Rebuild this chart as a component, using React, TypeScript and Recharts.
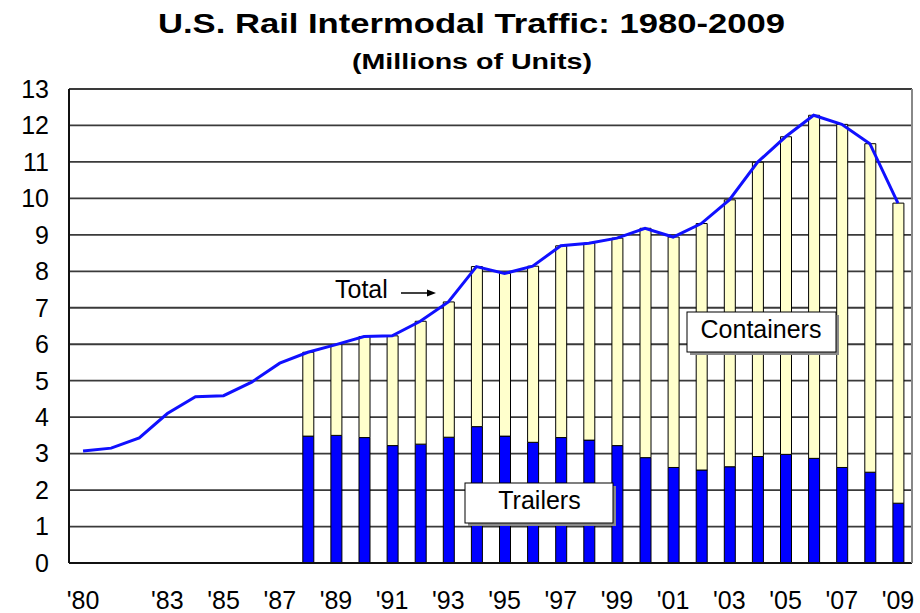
import React from "react";
import {
  ComposedChart,
  Bar,
  Line,
  XAxis,
  YAxis,
  CartesianGrid,
} from "recharts";

const years = [
  "1980", "1981", "1982", "1983", "1984", "1985", "1986", "1987", "1988", "1989",
  "1990", "1991", "1992", "1993", "1994", "1995", "1996", "1997", "1998", "1999",
  "2000", "2001", "2002", "2003", "2004", "2005", "2006", "2007", "2008", "2009",
];

const totalUnits = [
  3.07, 3.15, 3.43, 4.1, 4.56, 4.59, 4.96, 5.48, 5.78, 5.99,
  6.21, 6.23, 6.63, 7.16, 8.13, 7.94, 8.14, 8.7, 8.77, 8.91,
  9.18, 8.94, 9.31, 9.96, 10.99, 11.69, 12.28, 12.03, 11.5, 9.87,
];

const trailerUnits = [
  null, null, null, null, null, null, null, null, 3.48, 3.5,
  3.44, 3.22, 3.26, 3.45, 3.74, 3.48, 3.31, 3.44, 3.37, 3.22,
  2.89, 2.62, 2.55, 2.64, 2.92, 2.98, 2.87, 2.62, 2.49, 1.64,
];

const containerUnits = [
  null, null, null, null, null, null, null, null, 2.3, 2.49,
  2.77, 3.01, 3.37, 3.71, 4.39, 4.46, 4.83, 5.26, 5.4, 5.69,
  6.29, 6.32, 6.76, 7.32, 8.07, 8.71, 9.41, 9.41, 9.01, 8.23,
];

const xTickYears = [
  "1980", "1983", "1985", "1987", "1989", "1991", "1993", "1995", "1997",
  "1999", "2001", "2003", "2005", "2007", "2009",
];
const xTickLabels = [
  "'80", "'83", "'85", "'87", "'89", "'91", "'93", "'95", "'97",
  "'99", "'01", "'03", "'05", "'07", "'09",
];

const yTicks = [0, 1, 2, 3, 4, 5, 6, 7, 8, 9, 10, 11, 12, 13];

const data = years.map((year, i) => ({
  year,
  total: totalUnits[i],
  trailers: trailerUnits[i],
  containers: containerUnits[i],
}));

const FONT = "'Liberation Sans', Arial, Helvetica, sans-serif";

const XTick = (props: any) => {
  const { x, y, payload } = props;
  const idx = xTickYears.indexOf(String(payload.value));
  if (idx < 0) return null;
  return (
    <text
      x={x}
      y={y + 46}
      textAnchor="middle"
      fontSize={25}
      fontFamily={FONT}
      fill="#000"
    >
      {xTickLabels[idx]}
    </text>
  );
};

export default function App() {
  return (
    <div style={{ position: "absolute", left: 0, top: 0, width: 920, height: 613, background: "#fff" }}>
      <ComposedChart
        width={920}
        height={613}
        data={data}
        margin={{ top: 89, right: 0, bottom: 0, left: 0 }}
        barGap={0}
      >
        <CartesianGrid horizontal vertical={false} stroke="#3a3a3a" strokeWidth={1.8} />
        <XAxis
          dataKey="year"
          interval={0}
          tickLine={false}
          tickSize={0}
          tickMargin={0}
          height={50}
          axisLine={{ stroke: "#111", strokeWidth: 2 }}
          tick={<XTick />}
        />
        <YAxis
          domain={[0, 13]}
          ticks={yTicks}
          interval={0}
          width={69}
          tickLine={false}
          tickSize={0}
          tickMargin={20}
          axisLine={{ stroke: "#111", strokeWidth: 2 }}
          tick={{ fontSize: 25, fill: "#000", fontFamily: FONT }}
        />
        <YAxis
          yAxisId="right"
          orientation="right"
          domain={[0, 13]}
          width={8}
          tick={false}
          tickLine={false}
          axisLine={{ stroke: "#888", strokeWidth: 2 }}
        />
        <Bar
          dataKey="trailers"
          stackId="a"
          fill="#0000ff"
          stroke="#000"
          strokeWidth={1}
          barSize={11}
          isAnimationActive={false}
        />
        <Bar
          dataKey="containers"
          stackId="a"
          fill="#ffffcc"
          stroke="#000"
          strokeWidth={1}
          barSize={11}
          isAnimationActive={false}
        />
        <Line
          dataKey="total"
          type="linear"
          stroke="#1010ff"
          strokeWidth={3}
          dot={false}
          activeDot={false}
          isAnimationActive={false}
        />
      </ComposedChart>
      <svg
        width={920}
        height={613}
        style={{ position: "absolute", left: 0, top: 0, pointerEvents: "none" }}
      >
        <text
          x={471.5}
          y={33}
          textAnchor="middle"
          fontSize={28}
          fontWeight="bold"
          fontFamily={FONT}
          fill="#000"
          textLength={627}
          lengthAdjust="spacingAndGlyphs"
        >
          U.S. Rail Intermodal Traffic: 1980-2009
        </text>
        <text
          x={472}
          y={69}
          textAnchor="middle"
          fontSize={22}
          fontWeight="bold"
          fontFamily={FONT}
          fill="#000"
          textLength={240}
          lengthAdjust="spacingAndGlyphs"
        >
          (Millions of Units)
        </text>
        <text x={335} y={298} fontSize={25} fontFamily={FONT} fill="#000">
          Total
        </text>
        <line x1={401} y1={293} x2={428} y2={293} stroke="#000" strokeWidth={1.5} />
        <polygon points="436,293 427,289.5 427,296.5" fill="#000" />
        <rect x={468} y={486} width={148} height={40} fill="#8a8a8a" />
        <rect x={465} y={483} width={148} height={40} fill="#fff" stroke="#000" strokeWidth={1} />
        <text x={539.5} y={509} textAnchor="middle" fontSize={25} fontFamily={FONT} fill="#000">
          Trailers
        </text>
        <rect x={690} y={315} width={149} height={40} fill="#8a8a8a" />
        <rect x={687} y={312} width={149} height={40} fill="#fff" stroke="#000" strokeWidth={1} />
        <text x={761} y={338} textAnchor="middle" fontSize={25} fontFamily={FONT} fill="#000">
          Containers
        </text>
      </svg>
    </div>
  );
}
